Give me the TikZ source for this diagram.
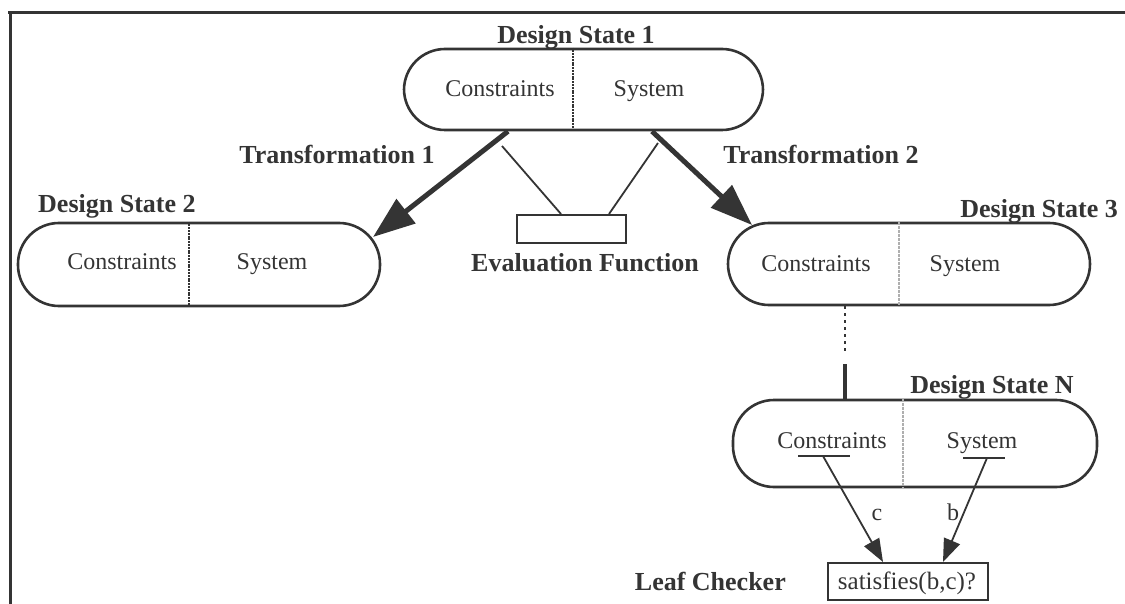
\documentclass[tikz,border=0pt]{standalone}
\usepackage{fontspec}
\setmainfont{Liberation Serif}
\usetikzlibrary{arrows.meta}
\definecolor{ink}{RGB}{52,52,52}
\definecolor{faint}{RGB}{175,175,175}
\tikzset{
  capsule/.style={draw=ink, line width=2.6pt, rounded corners=41pt, inner sep=0pt},
  title/.style={inner sep=0pt, text=ink, font=\fontsize{26}{30}\selectfont\bfseries},
  part/.style={inner sep=0pt, text=ink, font=\fontsize{24}{28}\selectfont},
  darkdiv/.style={draw=ink, line width=1.4pt, dash pattern=on 2pt off 0.8pt},
  lightdiv/.style={draw=faint, line width=2pt, dash pattern=on 3pt off 1pt},
  bigarrow/.style={draw=ink, line width=5pt, -{Triangle[length=42pt,width=30pt]}},
  thin/.style={draw=ink, line width=1.8pt},
  smallarrow/.style={draw=ink, line width=1.8pt, -{Triangle[length=23pt,width=17pt]}},
  boxed/.style={draw=ink, line width=2pt, inner sep=0pt},
  frame/.style={draw=ink, line width=3pt}
}
\begin{document}
\begin{tikzpicture}[x=1pt, y=-1pt]
\useasboundingbox (0,0) rectangle (1125,604);

% outer frame (top and left edges)
\coordinate (fTL) at (10,13);
\coordinate (fTR) at (1125,13);
\coordinate (fBL) at (10,604);
\draw[frame] (8,13) -- (fTR);
\draw[frame] (fTL) -- (fBL);

% design states
\node[capsule, minimum width=359pt, minimum height=81pt] (ds1) at (583.5,89.5) {};
\node[capsule, minimum width=362pt, minimum height=83pt] (ds2) at (199,264.5) {};
\node[capsule, minimum width=362pt, minimum height=82pt] (ds3) at (909,264) {};
\node[capsule, minimum width=364pt, minimum height=87pt] (dsN) at (915,443.5) {};

% dividers between the two halves
\coordinate (d1) at (573,0);
\coordinate (d2) at (189,0);
\coordinate (d3) at (899,0);
\coordinate (dN) at (903,0);
\draw[darkdiv] (ds1.north -| d1) -- (ds1.south -| d1);
\draw[darkdiv] (ds2.north -| d2) -- (ds2.south -| d2);
\draw[lightdiv] (ds3.north -| d3) -- (ds3.south -| d3);
\draw[lightdiv] (dsN.north -| dN) -- (dsN.south -| dN);

% halves
\node[part, anchor=base] (c1) at (500,97) {Constraints};
\node[part, anchor=base] (s1) at (649,97) {System};
\node[part, anchor=base] (c2) at (122,270) {Constraints};
\node[part, anchor=base] (s2) at (272,270) {System};
\node[part, anchor=base] (c3) at (816,272) {Constraints};
\node[part, anchor=base] (s3) at (965,272) {System};
\node[part, anchor=base] (cN) at (832,448) {Constraints};
\node[part, anchor=base] (sN) at (982,448) {System};

% titles
\node[title, anchor=base] (t1) at (576,44) {Design State 1};
\node[title, anchor=base west] (t2) at (38,213) {Design State 2};
\node[title, anchor=base east] (t3) at (1118,218) {Design State 3};
\node[title, anchor=base] (tN) at (992,393) {Design State N};
\node[title, anchor=base] (tr1) at (337,164) {Transformation 1};
\node[title, anchor=base] (tr2) at (821,164) {Transformation 2};

% transformations
\coordinate (a1s) at (508,0);
\coordinate (a1e) at (373,237);
\coordinate (a2s) at (652,0);
\coordinate (a2e) at (752,225);
\draw[bigarrow] (ds1.south -| a1s) -- (a1e);
\draw[bigarrow] (ds1.south -| a2s) -- (a2e);

% evaluation function
\node[boxed, minimum width=109pt, minimum height=28pt] (ef) at (571.5,229) {};
\node[title, anchor=base] (efl) at (585,272) {Evaluation Function};
\coordinate (e1a) at (502,146);
\coordinate (e1b) at (561,0);
\coordinate (e2a) at (658,143);
\coordinate (e2b) at (609,0);
\draw[thin] (e1a) -- (ef.north -| e1b);
\draw[thin] (e2a) -- (ef.north -| e2b);

% chain from state 3 down to state N
\coordinate (k) at (845,0);
\coordinate (kdots) at (845,353);
\coordinate (ksolid) at (845,364);
\draw[draw=ink, line width=2pt, dash pattern=on 2.5pt off 4.5pt] (ds3.south -| k) -- (kdots);
\draw[draw=ink, line width=3.5pt] (ksolid) -- (dsN.north -| k);

% leaf checker
\node[boxed, minimum width=160pt, minimum height=37pt] (leaf) at (908,581.5) {};
\node[part, anchor=base, font=\fontsize{25}{29}\selectfont] (leaft) at (907,589) {satisfies(b,c)?};
\node[title, anchor=base east] (leafl) at (786,590) {Leaf Checker};

% arguments taken from state N
\coordinate (uc1) at (798,456);
\coordinate (uc2) at (850,456);
\coordinate (us1) at (963,458);
\coordinate (us2) at (1005,458);
\draw[thin] (uc1) -- (uc2);
\draw[thin] (us1) -- (us2);
\coordinate (cs) at (823,456);
\coordinate (ce) at (883,0);
\coordinate (bs) at (987,458);
\coordinate (be) at (943,0);
\draw[smallarrow] (cs) -- (leaf.north -| ce);
\draw[smallarrow] (bs) -- (leaf.north -| be);
\node[part, anchor=base] (lc) at (877,520) {c};
\node[part, anchor=base] (lb) at (953,520) {b};
\end{tikzpicture}
\end{document}
